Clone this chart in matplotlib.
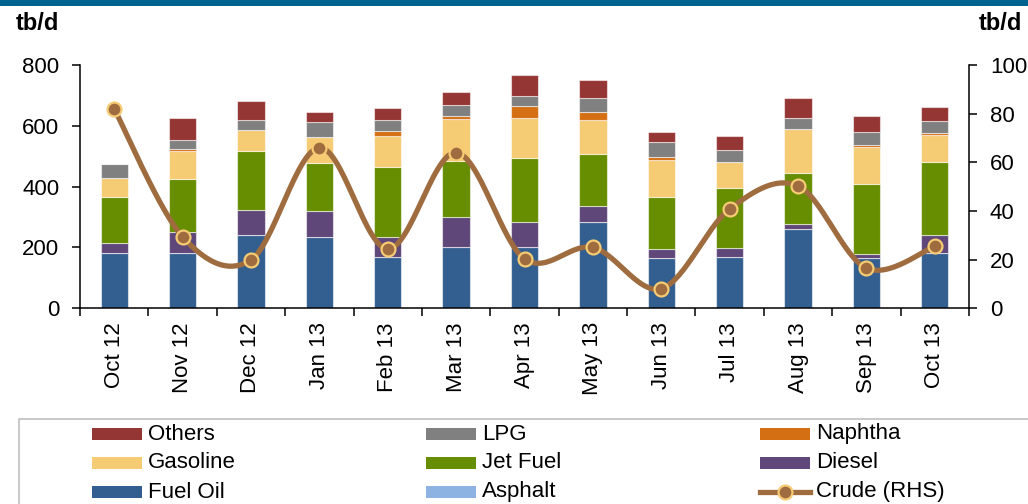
import numpy as np
import matplotlib.pyplot as plt
from matplotlib.patches import Rectangle
from matplotlib.lines import Line2D

plt.rcParams['font.family'] = ['Liberation Sans', 'DejaVu Sans']

months = ['Oct 12', 'Nov 12', 'Dec 12', 'Jan 13', 'Feb 13', 'Mar 13', 'Apr 13',
          'May 13', 'Jun 13', 'Jul 13', 'Aug 13', 'Sep 13', 'Oct 13']

# product volumes, tb/d (stacked bottom to top)
fuel_oil = [182, 181, 241, 233, 170, 203, 201, 285, 165, 168, 260, 165, 181]
asphalt  = [0, 0, 0, 0, 0, 0, 0, 0, 0, 0, 0, 0, 0]
diesel   = [32, 71, 83, 88, 65, 98, 82, 52, 29, 29, 16, 14, 60]
jet_fuel = [153, 172, 193, 157, 230, 183, 211, 170, 173, 199, 169, 230, 239]
gasoline = [60, 93, 68, 85, 103, 138, 133, 113, 122, 85, 145, 123, 90]
naphtha  = [0, 6, 0, 0, 15, 10, 37, 25, 7, 0, 0, 4, 5]
lpg      = [46, 32, 33, 48, 37, 35, 33, 48, 50, 38, 36, 43, 40]
others   = [3, 70, 65, 33, 40, 45, 69, 59, 33, 47, 64, 54, 47]

# crude, right hand scale
crude = [82, 29.4, 19.9, 66, 24.4, 64, 20.3, 25, 8.1, 40.8, 50.3, 16.5, 25.5]

series = [('Fuel Oil', fuel_oil, '#335f90'),
          ('Asphalt', asphalt, '#8db3e2'),
          ('Diesel', diesel, '#5f4879'),
          ('Jet Fuel', jet_fuel, '#668e00'),
          ('Gasoline', gasoline, '#f5cb74'),
          ('Naphtha', naphtha, '#d46f14'),
          ('LPG', lpg, '#808080'),
          ('Others', others, '#943634')]
crude_col = '#9e6c3e'
crude_edge = '#f5cb74'


def smooth(xs, ys, n=30):
    # Catmull-Rom curve through the points (same as a spreadsheet "smoothed line")
    xs = np.asarray(xs, float)
    ys = np.asarray(ys, float)
    px = np.concatenate([[xs[0]], xs, [xs[-1]]])
    py = np.concatenate([[ys[0]], ys, [ys[-1]]])
    ox, oy = [], []
    for i in range(1, len(px) - 2):
        t = np.linspace(0, 1, n, endpoint=False)
        p0, p1, p2, p3 = px[i - 1], px[i], px[i + 1], px[i + 2]
        q0, q1, q2, q3 = py[i - 1], py[i], py[i + 1], py[i + 2]
        b1x = p1 + (p2 - p0) / 6
        b2x = p2 - (p3 - p1) / 6
        b1y = q1 + (q2 - q0) / 6
        b2y = q2 - (q3 - q1) / 6
        ox.append((1 - t) ** 3 * p1 + 3 * (1 - t) ** 2 * t * b1x + 3 * (1 - t) * t ** 2 * b2x + t ** 3 * p2)
        oy.append((1 - t) ** 3 * q1 + 3 * (1 - t) ** 2 * t * b1y + 3 * (1 - t) * t ** 2 * b2y + t ** 3 * q2)
    ox.append([xs[-1]])
    oy.append([ys[-1]])
    return np.concatenate(ox), np.concatenate(oy)


W, H = 1028, 504
fig = plt.figure(figsize=(W / 100, H / 100), dpi=100)

# header band
fig.add_artist(Rectangle((0, 1 - 6 / H), 1, 6 / H, transform=fig.transFigure,
                         facecolor='#00648f', edgecolor='none'))

ax = fig.add_axes([80 / W, 1 - 308.3 / H, 889 / W, 243.3 / H])
x = np.arange(len(months))
bottom = np.zeros(len(months))
for name, vals, col in series:
    ax.bar(x, vals, width=0.4, bottom=bottom, color=col,
           edgecolor=(1, 1, 1, 0.55), linewidth=0.8)
    bottom += np.array(vals)

ax.set_xlim(-0.5, len(months) - 0.5)
ax.set_ylim(0, 800)
ax.set_yticks(np.arange(0, 801, 200))
ax.set_xticks(x)
ax.set_xticklabels(months, rotation=90)
ax.set_xticks(np.arange(-0.5, len(months), 1), minor=True)
ax.tick_params(axis='x', which='major', length=0, pad=10, labelsize=16)
ax.tick_params(axis='x', which='minor', length=6, width=1.1)
ax.tick_params(axis='y', length=6, width=1.1, pad=9, labelsize=16)
for s in ['top', 'right']:
    ax.spines[s].set_visible(False)
for s in ['left', 'bottom']:
    ax.spines[s].set_linewidth(1.1)

ax2 = ax.twinx()
ax2.set_ylim(0, 100)
ax2.set_yticks(np.arange(0, 101, 20))
ax2.tick_params(axis='y', length=6, width=1.1, pad=9, labelsize=16)
for s in ['top', 'left', 'bottom']:
    ax2.spines[s].set_visible(False)
ax2.spines['right'].set_linewidth(1.1)
sx, sy = smooth(x, crude)
ax2.plot(sx, sy, color=crude_col, lw=3.8, solid_capstyle='round', clip_on=False)
ax2.plot(x, crude, 'o', ms=10, mfc=crude_col, mec=crude_edge, mew=1.6, clip_on=False)

fig.text(16 / W, 1 - 23 / H, 'tb/d', fontsize=17, fontweight='bold', va='center', ha='left')
fig.text(1022 / W, 1 - 23 / H, 'tb/d', fontsize=17, fontweight='bold', va='center', ha='right')

# legend box
fig.add_artist(Rectangle((19 / W, -0.05), 1.05, (504 - 419 + 0.05 * H) / H,
                         transform=fig.transFigure, facecolor='white',
                         edgecolor='#c0c0c0', linewidth=1.2))
order = ['Others', 'LPG', 'Naphtha', 'Gasoline', 'Jet Fuel', 'Diesel', 'Fuel Oil', 'Asphalt']
colors = {n: c for n, v, c in series}
col_x = [92, 426, 760]
row_y = [434, 463, 492]
for i, name in enumerate(order + ['Crude (RHS)']):
    cx = col_x[i % 3]
    cy = row_y[i // 3]
    if name == 'Crude (RHS)':
        fig.add_artist(Line2D([cx / W, (cx + 50) / W], [1 - cy / H] * 2,
                              transform=fig.transFigure, color=crude_col, lw=3.8))
        fig.add_artist(Line2D([(cx + 25) / W], [1 - cy / H], transform=fig.transFigure,
                              marker='o', ms=10, mfc=crude_col, mec=crude_edge, mew=1.6))
    else:
        fig.add_artist(Rectangle((cx / W, 1 - (cy + 6) / H), 50 / W, 12 / H,
                                 transform=fig.transFigure, facecolor=colors[name],
                                 edgecolor='none'))
    fig.text((cx + 56) / W, 1 - cy / H, name, fontsize=16, va='center', ha='left')

fig.savefig('out.png', dpi=100)
